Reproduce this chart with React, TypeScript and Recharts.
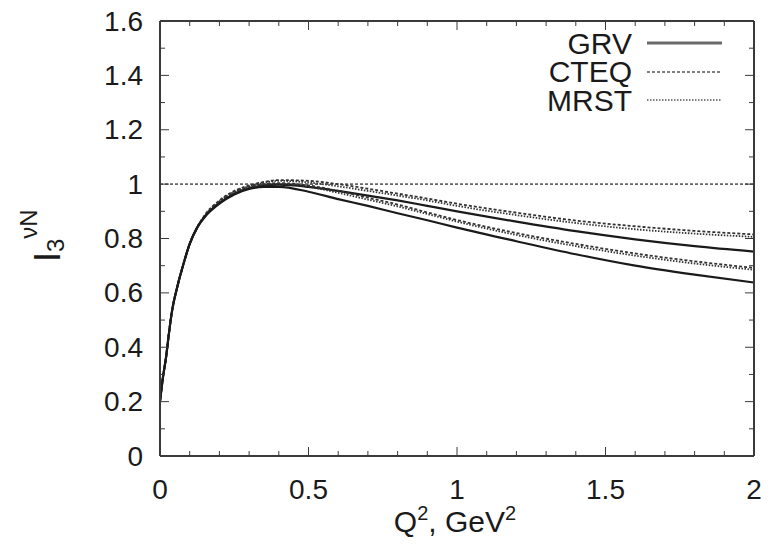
import React from "react";
import {
  LineChart,
  Line,
  XAxis,
  YAxis,
  ReferenceLine,
  Legend,
} from "recharts";

// Q^2 grid, GeV^2
const q2 = [0, 0.01, 0.02, 0.03, 0.04, 0.06, 0.08, 0.1, 0.125, 0.15, 0.2, 0.25, 0.3, 0.35, 0.4, 0.5, 0.6, 0.7, 0.8, 0.9, 1.0, 1.2, 1.4, 1.6, 1.8, 2.0];

// upper set of curves
const grvA = [0.2, 0.29, 0.36, 0.45, 0.53, 0.63, 0.71, 0.78, 0.84, 0.88, 0.93, 0.965, 0.985, 0.995, 0.998, 0.99, 0.975, 0.958, 0.94, 0.92, 0.9, 0.862, 0.827, 0.797, 0.772, 0.752];
const cteqA = [0.2, 0.29, 0.36, 0.45, 0.53, 0.63, 0.71, 0.78, 0.84, 0.885, 0.94, 0.975, 0.995, 1.008, 1.015, 1.012, 1.0, 0.983, 0.965, 0.947, 0.928, 0.895, 0.866, 0.845, 0.828, 0.815];
const mrstA = [0.2, 0.29, 0.36, 0.45, 0.53, 0.63, 0.71, 0.78, 0.84, 0.883, 0.937, 0.972, 0.992, 1.005, 1.012, 1.006, 0.992, 0.975, 0.958, 0.94, 0.92, 0.886, 0.857, 0.834, 0.818, 0.806];

// lower set of curves
const grvB = [0.2, 0.29, 0.36, 0.45, 0.53, 0.63, 0.71, 0.78, 0.84, 0.878, 0.928, 0.962, 0.982, 0.99, 0.99, 0.972, 0.945, 0.92, 0.893, 0.867, 0.84, 0.79, 0.742, 0.7, 0.667, 0.638];
const cteqB = [0.2, 0.29, 0.36, 0.45, 0.53, 0.63, 0.71, 0.78, 0.84, 0.882, 0.935, 0.97, 0.99, 1.0, 1.004, 0.995, 0.975, 0.95, 0.925, 0.896, 0.868, 0.82, 0.78, 0.745, 0.716, 0.692];
const mrstB = [0.2, 0.29, 0.36, 0.45, 0.53, 0.63, 0.71, 0.78, 0.84, 0.88, 0.932, 0.968, 0.987, 0.997, 1.0, 0.99, 0.968, 0.943, 0.918, 0.89, 0.862, 0.813, 0.772, 0.737, 0.708, 0.685];

const xTicks = [0, 0.1, 0.2, 0.3, 0.4, 0.5, 0.6, 0.7, 0.8, 0.9, 1, 1.1, 1.2, 1.3, 1.4, 1.5, 1.6, 1.7, 1.8, 1.9, 2];
const xLabels = ["0", "0.5", "1", "1.5", "2"];
const yTicks = [0, 0.1, 0.2, 0.3, 0.4, 0.5, 0.6, 0.7, 0.8, 0.9, 1, 1.1, 1.2, 1.3, 1.4, 1.5, 1.6];
const yLabels = ["0", "0.2", "0.4", "0.6", "0.8", "1", "1.2", "1.4", "1.6"];

const data = q2.map((q, i) => ({
  q,
  grvA: grvA[i],
  cteqA: cteqA[i],
  mrstA: mrstA[i],
  grvB: grvB[i],
  cteqB: cteqB[i],
  mrstB: mrstB[i],
}));

const FONT = "'Liberation Sans', Arial, sans-serif";
const AXIS = "#3a3a3a";
const TEXT = "#1a1a1a";
const TICK_FS = 28;

const fmt = (v: number) => String(Math.round(v * 10) / 10);

const BottomTick = (props: any) => {
  const { x, y, payload } = props;
  const label = fmt(payload.value);
  const major = xLabels.includes(label);
  return (
    <g>
      <line x1={x} x2={x} y1={y} y2={y - (major ? 9 : 5)} stroke={AXIS} strokeWidth={1} />
      {major && (
        <text x={x} y={y + 33} textAnchor="middle" dominantBaseline="central" fontSize={TICK_FS} fontFamily={FONT} fill={TEXT}>
          {label}
        </text>
      )}
    </g>
  );
};

const TopTick = (props: any) => {
  const { x, y, payload } = props;
  const major = xLabels.includes(fmt(payload.value));
  return <line x1={x} x2={x} y1={y} y2={y + (major ? 9 : 5)} stroke={AXIS} strokeWidth={1} />;
};

const LeftTick = (props: any) => {
  const { x, y, payload } = props;
  const label = fmt(payload.value);
  const major = yLabels.includes(label);
  return (
    <g>
      <line x1={x} x2={x + (major ? 9 : 5)} y1={y} y2={y} stroke={AXIS} strokeWidth={1} />
      {major && (
        <text x={x - 17} y={y} textAnchor="end" dominantBaseline="central" fontSize={TICK_FS} fontFamily={FONT} fill={TEXT}>
          {label}
        </text>
      )}
    </g>
  );
};

const RightTick = (props: any) => {
  const { x, y, payload } = props;
  const major = yLabels.includes(fmt(payload.value));
  return <line x1={x} x2={x - (major ? 9 : 5)} y1={y} y2={y} stroke={AXIS} strokeWidth={1} />;
};

const legendRows = [
  { name: "GRV", dash: undefined as string | undefined, color: "#6a6a6a", width: 3 },
  { name: "CTEQ", dash: "3 2", color: "#555", width: 1.5 },
  { name: "MRST", dash: "1.5 1.5", color: "#555", width: 1.5 },
];

const LegendBox = () => (
  <div style={{ fontFamily: FONT, fontSize: 30, color: TEXT }}>
    {legendRows.map((r) => (
      <div key={r.name} style={{ display: "flex", alignItems: "center", height: 28.5 }}>
        <span style={{ display: "block", width: 102, height: 27, overflow: "visible", textAlign: "right", lineHeight: "27px" }}>{r.name}</span>
        <svg width={95} height={10} style={{ marginLeft: 15 }}>
          <line x1={0} x2={75} y1={5} y2={5} stroke={r.color} strokeWidth={r.width} strokeDasharray={r.dash} />
        </svg>
      </div>
    ))}
  </div>
);

const YTitle = () => (
  <text transform="translate(60,262) rotate(-90)" textAnchor="start" fontSize={36} fontFamily={FONT} fill={TEXT}>
    I
    <tspan fontSize={24} dy={4}>3</tspan>
    <tspan fontSize={24} dy={-27}>νN</tspan>
  </text>
);

const XTitle = () => (
  <text x={455} y={532} textAnchor="middle" fontSize={30} fontFamily={FONT} fill={TEXT}>
    Q<tspan fontSize={20} dy={-12}>2</tspan>
    <tspan dy={12}>, GeV</tspan>
    <tspan fontSize={20} dy={-12}>2</tspan>
  </text>
);

export default function App() {
  return (
    <div style={{ width: 772, height: 547, marginTop: -8, marginLeft: -8, background: "#fff" }}>
      <LineChart
        width={772}
        height={547}
        data={data}
        margin={{ top: 20, right: 17, left: 100, bottom: 61 }}
      >
        <XAxis
          xAxisId="b"
          dataKey="q"
          type="number"
          domain={[0, 2]}
          ticks={xTicks}
          interval={0}
          tickSize={0}
          tickMargin={0}
          tickLine={false}
          tick={<BottomTick />}
          axisLine={{ stroke: AXIS, strokeWidth: 2 }}
          height={30}
          allowDataOverflow
          label={<XTitle />}
        />
        <XAxis
          xAxisId="t"
          orientation="top"
          dataKey="q"
          type="number"
          domain={[0, 2]}
          ticks={xTicks}
          interval={0}
          tickSize={0}
          tickMargin={0}
          tickLine={false}
          tick={<TopTick />}
          axisLine={{ stroke: AXIS, strokeWidth: 2 }}
          height={1}
          allowDataOverflow
        />
        <YAxis
          yAxisId="l"
          type="number"
          domain={[0, 1.6]}
          ticks={yTicks}
          interval={0}
          tickSize={0}
          tickMargin={0}
          tickLine={false}
          tick={<LeftTick />}
          axisLine={{ stroke: AXIS, strokeWidth: 2 }}
          width={60}
          allowDataOverflow
          label={<YTitle />}
        />
        <YAxis
          yAxisId="r"
          orientation="right"
          type="number"
          domain={[0, 1.6]}
          ticks={yTicks}
          interval={0}
          tickSize={0}
          tickMargin={0}
          tickLine={false}
          tick={<RightTick />}
          axisLine={{ stroke: AXIS, strokeWidth: 2 }}
          width={1}
          allowDataOverflow
        />
        <ReferenceLine xAxisId="b" yAxisId="l" y={1} stroke="#666" strokeWidth={1.8} strokeDasharray="3 2" />
        <Line xAxisId="b" yAxisId="l" type="monotone" dataKey="mrstA" name="MRST" stroke="#333" strokeWidth={1.8} strokeDasharray="1.5 1.5" dot={false} isAnimationActive={false} />
        <Line xAxisId="b" yAxisId="l" type="monotone" dataKey="cteqA" name="CTEQ" stroke="#333" strokeWidth={1.8} strokeDasharray="3 2" dot={false} isAnimationActive={false} />
        <Line xAxisId="b" yAxisId="l" type="monotone" dataKey="grvA" name="GRV" stroke="#1a1a1a" strokeWidth={2.2} dot={false} isAnimationActive={false} />
        <Line xAxisId="b" yAxisId="l" type="monotone" dataKey="mrstB" name="MRST " stroke="#333" strokeWidth={1.8} strokeDasharray="1.5 1.5" dot={false} isAnimationActive={false} legendType="none" />
        <Line xAxisId="b" yAxisId="l" type="monotone" dataKey="cteqB" name="CTEQ " stroke="#333" strokeWidth={1.8} strokeDasharray="3 2" dot={false} isAnimationActive={false} legendType="none" />
        <Line xAxisId="b" yAxisId="l" type="monotone" dataKey="grvB" name="GRV " stroke="#1a1a1a" strokeWidth={2.2} dot={false} isAnimationActive={false} legendType="none" />
        <Legend
          layout="vertical"
          align="center"
          verticalAlign="middle"
          content={<LegendBox />}
          wrapperStyle={{ left: 530, top: 29, width: 220, height: 90 }}
        />
      </LineChart>
    </div>
  );
}
